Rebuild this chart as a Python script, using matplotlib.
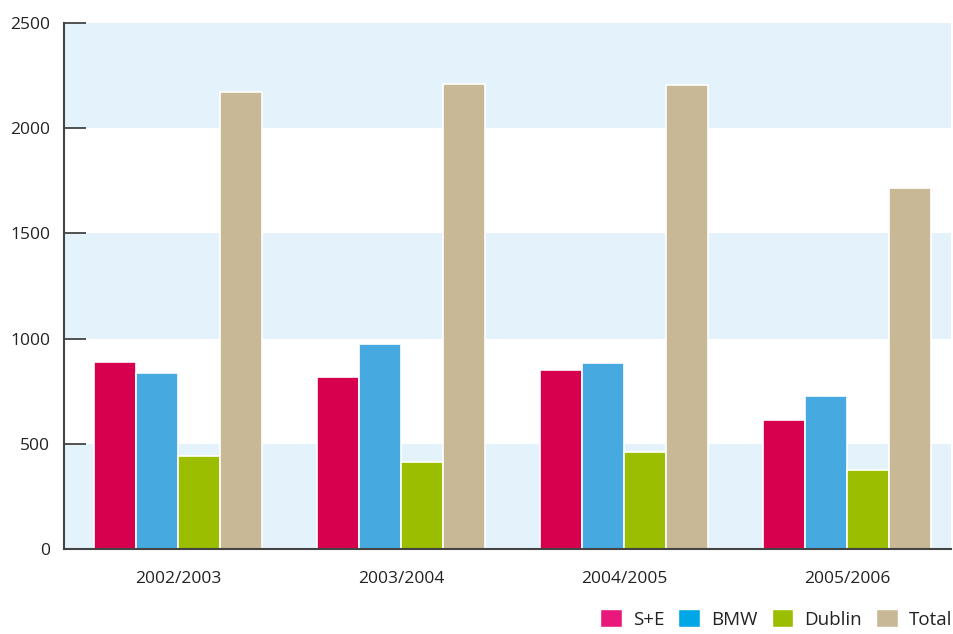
import matplotlib.pyplot as plt
from matplotlib.patches import Patch
import numpy as np

plt.rcParams['font.family'] = ['Open Sans', 'DejaVu Sans']

years = ['2002/2003', '2003/2004', '2004/2005', '2005/2006']
series = ['S+E', 'BMW', 'Dublin', 'Total']
se = [890, 817, 851, 613]
bmw = [836, 975, 885, 727]
dublin = [443, 414, 461, 376]
total = [2172, 2210, 2205, 1716]

bar_colors = ['#D6004F', '#46A9E0', '#9BBE00', '#C8B896']
legend_colors = ['#E8197A', '#00A7E6', '#9BBE00', '#C8B896']
band_color = '#E4F2FC'

fig = plt.figure(figsize=(9.54, 6.34), dpi=100)
ax = fig.add_axes([64 / 954, 1 - 549 / 634, (951 - 64) / 954, (549 - 23) / 634])

# light blue bands every other 500
for lo in [0, 1000, 2000]:
    ax.axhspan(lo, lo + 500, color=band_color, zorder=0, lw=0)

x = np.arange(len(years))
w = 0.1883
for i, vals in enumerate([se, bmw, dublin, total]):
    ax.bar(x + (i - 1.5) * w, vals, width=w, color=bar_colors[i],
           edgecolor='white', linewidth=1.2, zorder=2)

ax.set_xlim(-0.511, 3.466)
ax.set_ylim(0, 2500)
ax.set_yticks([0, 500, 1000, 1500, 2000, 2500])
ax.set_xticks(x)
ax.set_xticklabels(years, fontsize=12.5, color='#222222')
ax.tick_params(axis='x', length=0, pad=16)
ax.tick_params(axis='y', direction='in', length=16, width=1.3, color='#444444',
               labelsize=12.5, labelcolor='#222222', pad=10)

for s in ['top', 'right']:
    ax.spines[s].set_visible(False)
for s in ['left', 'bottom']:
    ax.spines[s].set_color('#444444')
    ax.spines[s].set_linewidth(1.5)

handles = [Patch(facecolor=c, edgecolor='white') for c in legend_colors]
fig.legend(handles, series, loc='lower right', bbox_to_anchor=(1.016, -0.018), ncol=4,
           frameon=False, fontsize=13.5, handlelength=1.15, handleheight=1.05,
           handletextpad=0.6, columnspacing=0.75, labelcolor='#222222')

fig.savefig('out.png', dpi=100)
